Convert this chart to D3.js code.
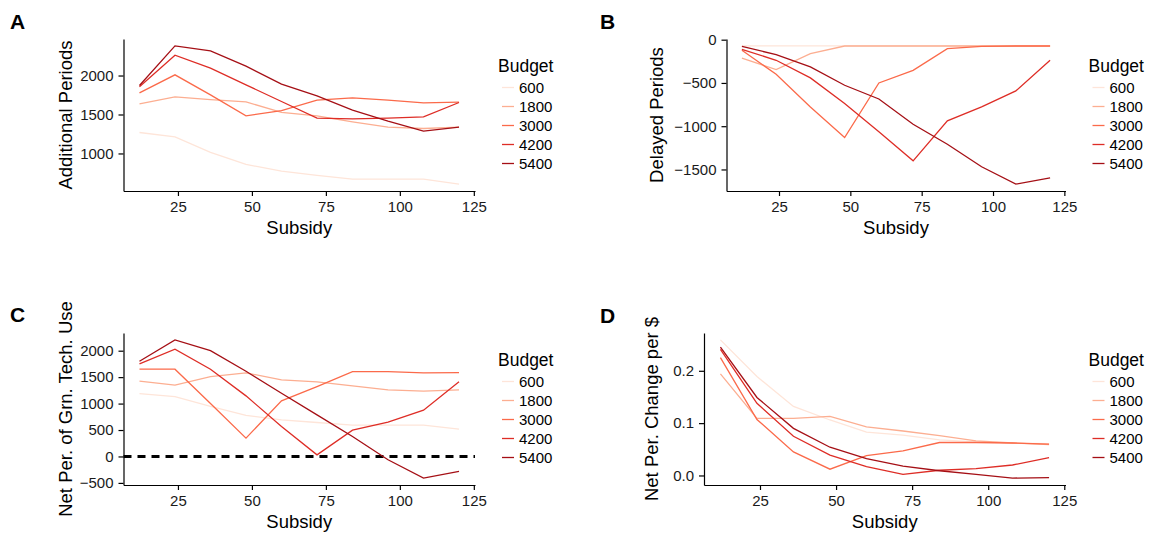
<!DOCTYPE html>
<html>
<head>
<meta charset="utf-8">
<script src="https://cdn.jsdelivr.net/npm/d3@7"></script>
<style>
	body { margin: 0; background: #fff; }
	svg text { font-family: "Liberation Sans", Arial, Helvetica, sans-serif; fill: #000; }
	.axis path, .axis line { stroke: #000; stroke-width: 1.2; }
	.axis text { font-size: 15px; fill: #1a1a1a; }
</style>
</head>
<body>
<div id="chart"></div>
<script>
var w = 1151, h = 536;

// Data
var subsidy = [12, 24, 36, 48, 60, 72, 84, 96, 108, 120];
var budgets = ["600", "1800", "3000", "4200", "5400"];

var additionalPeriods = [
	[1269, 1214, 1013, 859, 774, 718, 671, 671, 671, 607],
	[1637, 1726, 1692, 1662, 1526, 1483, 1406, 1338, 1320, 1338],
	[1778, 2009, 1752, 1483, 1551, 1684, 1714, 1684, 1650, 1658],
	[1855, 2261, 2094, 1880, 1667, 1453, 1444, 1453, 1470, 1654],
	[1872, 2380, 2316, 2120, 1889, 1739, 1556, 1415, 1286, 1338]
];

var delayedPeriods = [
	[-72, -72, -72, -72, -72, -72, -72, -72, -72, -72],
	[-212, -346, -162, -73, -73, -73, -73, -73, -73, -73],
	[-123, -400, -777, -1131, -500, -354, -104, -77, -73, -73],
	[-112, -238, -442, -738, -1065, -1400, -938, -777, -592, -238],
	[-77, -173, -315, -527, -685, -977, -1208, -1469, -1669, -1596]
];

var netGreenUse = [
	[1190, 1133, 945, 775, 693, 642, 592, 592, 592, 516],
	[1423, 1348, 1511, 1581, 1448, 1411, 1335, 1259, 1234, 1259],
	[1650, 1650, 1000, 346, 1052, 1322, 1606, 1606, 1581, 1587],
	[1750, 2028, 1650, 1146, 567, 31, 497, 649, 875, 1411],
	[1801, 2204, 2002, 1612, 1196, 787, 378, -63, -409, -283]
];

var netChangePerDollar = [
	[0.259, 0.189, 0.132, 0.106, 0.083, 0.077, 0.068, 0.064, 0.062, 0.061],
	[0.194, 0.109, 0.109, 0.113, 0.093, 0.085, 0.076, 0.066, 0.062, 0.059],
	[0.225, 0.107, 0.045, 0.012, 0.038, 0.047, 0.063, 0.063, 0.062, 0.060],
	[0.241, 0.138, 0.075, 0.039, 0.017, 0.002, 0.010, 0.013, 0.020, 0.034],
	[0.245, 0.149, 0.090, 0.054, 0.032, 0.018, 0.009, 0.002, -0.005, -0.004]
];

var xTicks = [25, 50, 75, 100, 125];

// Brewer "Reds", 5 classes
var colors = ["#fee5d9", "#fcae91", "#fb6a4a", "#de2d26", "#a50f15"];

var svg = d3.select("#chart").append("svg")
	.attr("width", w)
	.attr("height", h);

/* ##########################################################################
#### Panels
# */
var panels = [
	{ letter: "A", values: additionalPeriods, title: "Additional Periods",
		left: 123.5, right: 475, top: 39, bottom: 191, titleX: 71.5, yTicks: [1000, 1500, 2000], fmt: d3.format("d") },
	{ letter: "B", values: delayedPeriods, title: "Delayed Periods",
		left: 726.5, right: 1065.5, top: 39, bottom: 191, titleX: 663, yTicks: [-1500, -1000, -500, 0], fmt: d3.format("d") },
	{ letter: "C", values: netGreenUse, title: "Net Per. of Grn. Tech. Use",
		left: 123.5, right: 475, top: 333, bottom: 485, titleX: 71.5, yTicks: [-500, 0, 500, 1000, 1500, 2000], fmt: d3.format("d"), zeroLine: true },
	{ letter: "D", values: netChangePerDollar, title: "Net Per. Change per $",
		left: 704, right: 1065.5, top: 333, bottom: 485, titleX: 658, yTicks: [0, 0.1, 0.2], fmt: d3.format(".1f") }
];

var expand = function(ext) {
	var pad = (ext[1] - ext[0]) * 0.05;
	return [ext[0] - pad, ext[1] + pad];
};

var letterPos = { A: [10, 29], B: [600, 29], C: [10, 322], D: [600, 323] };

panels.forEach(function(p) {

	var g = svg.append("g").attr("class", "panel");

	var x = d3.scaleLinear()
		.domain(expand(d3.extent(subsidy)))
		.range([p.left, p.right]);

	var y = d3.scaleLinear()
		.domain(expand(d3.extent(d3.merge(p.values))))
		.range([p.bottom, p.top]);

	// Axes
	g.append("g")
		.attr("class", "axis")
		.attr("transform", "translate(0," + p.bottom + ")")
		.call(d3.axisBottom(x).tickValues(xTicks).tickSize(5).tickPadding(5).tickSizeOuter(0));

	g.append("g")
		.attr("class", "axis")
		.attr("transform", "translate(" + p.left + ",0)")
		.call(d3.axisLeft(y).tickValues(p.yTicks).tickFormat(p.fmt).tickSize(5).tickPadding(5).tickSizeOuter(0));

	// Zero reference line
	if (p.zeroLine) {
		g.append("line")
			.attr("x1", p.left)
			.attr("x2", p.right)
			.attr("y1", y(0))
			.attr("y2", y(0))
			.attr("stroke", "#000")
			.attr("stroke-width", 3)
			.attr("stroke-dasharray", "8,6");
	}

	// Series lines
	var line = d3.line()
		.x(function(d, i) { return x(subsidy[i]); })
		.y(function(d) { return y(d); });

	g.selectAll("path.series")
		.data(p.values)
		.enter()
		.append("path")
			.attr("class", "series")
			.attr("d", line)
			.attr("fill", "none")
			.attr("stroke", function(d, i) { return colors[i]; })
			.attr("stroke-width", 1.3);

	// Axis titles
	g.append("text")
		.attr("x", (p.left + p.right) / 2)
		.attr("y", p.bottom + 43)
		.attr("text-anchor", "middle")
		.style("font-size", "18.5px")
		.text("Subsidy");

	g.append("text")
		.attr("transform", "translate(" + p.titleX + "," + ((p.top + p.bottom) / 2) + ") rotate(-90)")
		.attr("text-anchor", "middle")
		.style("font-size", "18.5px")
		.text(p.title);

	// Panel letter
	g.append("text")
		.attr("x", letterPos[p.letter][0])
		.attr("y", letterPos[p.letter][1])
		.style("font-size", "21px")
		.style("font-weight", "bold")
		.text(p.letter);

	// Legend
	var lx = p.right + 23;
	var legend = g.append("g").attr("class", "legend");

	legend.append("text")
		.attr("x", lx)
		.attr("y", p.top + 33)
		.style("font-size", "17.5px")
		.text("Budget");

	var rows = legend.selectAll("g.row")
		.data(budgets)
		.enter()
		.append("g")
			.attr("class", "row")
			.attr("transform", function(d, i) { return "translate(" + lx + "," + (p.top + 48.5 + i * 19) + ")"; });

	rows.append("line")
		.attr("x1", 4)
		.attr("x2", 16)
		.attr("stroke", function(d, i) { return colors[i]; })
		.attr("stroke-width", 1.3);

	rows.append("text")
		.attr("x", 21)
		.attr("dy", "0.35em")
		.style("font-size", "15px")
		.text(function(d) { return d; });
});
</script>
</body>
</html>
